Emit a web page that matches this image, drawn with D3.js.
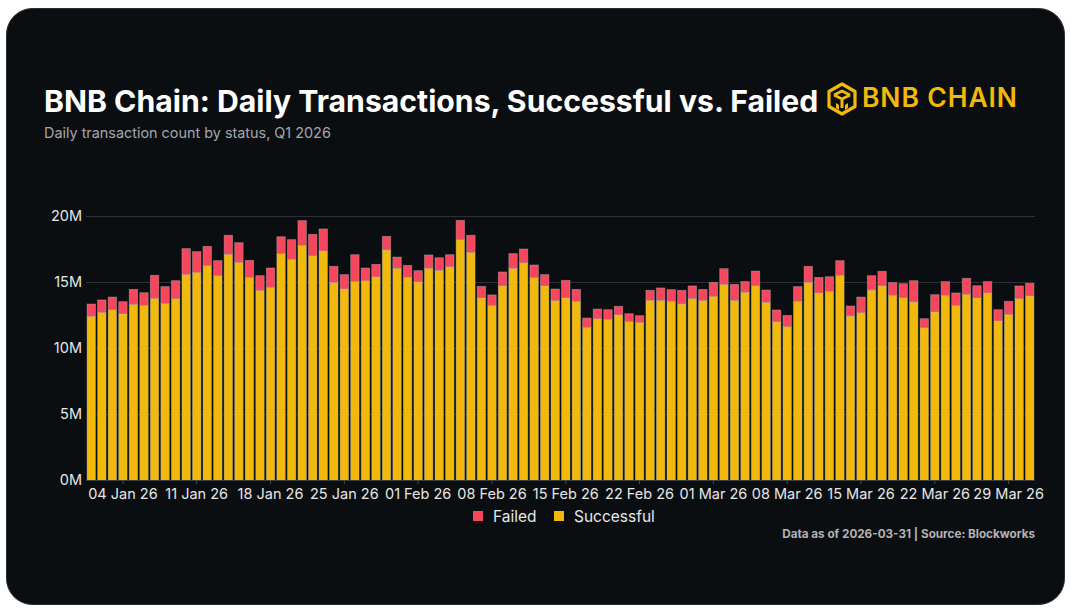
<!DOCTYPE html>
<html>
<head>
<meta charset="utf-8">
<script src="https://cdn.jsdelivr.net/npm/d3@7"></script>
<style>
  html, body { margin: 0; padding: 0; background: #ffffff; }
  svg { display: block; font-family: Inter, "Noto Sans", sans-serif; }
</style>
</head>
<body>
<svg id="chart" width="1071" height="610"></svg>
<script>
// ---- Data (values in millions of transactions) ----
const startDate = new Date(2026, 0, 1);
const endDate = new Date(2026, 3, 1);
const dates = d3.timeDay.range(startDate, endDate); // 1 Jan .. 31 Mar 2026

const successful = [
  12.40,12.70,12.90,12.58,13.31,13.23,13.76,13.38,13.74,15.58,
  15.73,16.24,15.48,17.10,16.49,15.35,14.37,14.60,17.15,16.72,
  17.78,16.99,17.35,14.97,14.47,15.03,15.10,15.38,17.42,16.04,
  15.36,15.00,16.04,15.88,16.16,18.21,17.25,13.79,13.23,14.70,
  16.04,16.46,15.33,14.70,13.59,13.79,13.54,11.57,12.22,12.17,
  12.50,12.00,11.94,13.61,13.61,13.54,13.33,13.74,13.59,13.91,
  14.82,13.61,14.22,14.72,13.46,11.97,11.62,13.54,14.97,14.17,
  14.29,15.51,12.42,12.68,14.39,14.70,13.99,13.81,13.48,11.54,
  12.73,13.99,13.23,14.07,13.79,14.17,12.05,12.55,13.74,13.94
];
const failed = [
  0.93,0.94,0.96,0.93,1.13,0.96,1.75,1.27,1.36,1.95,
  1.57,1.46,1.14,1.44,1.49,1.29,1.11,1.46,1.28,1.49,
  1.87,1.62,1.67,1.22,1.09,2.04,0.96,0.96,1.04,0.85,
  0.90,0.86,1.01,0.96,0.91,1.46,1.29,0.88,0.79,1.06,
  1.11,1.04,0.96,0.86,0.88,1.34,0.90,0.70,0.73,0.73,
  0.66,0.60,0.51,0.76,0.94,0.88,1.04,0.96,0.85,1.06,
  1.19,1.21,0.81,1.11,0.93,0.91,0.85,1.11,1.22,1.18,
  1.11,1.11,0.76,1.18,1.09,1.11,0.96,1.06,1.62,0.68,
  1.31,1.04,0.94,1.21,0.93,0.86,0.85,0.99,0.96,0.96
];
const seriesKeys = ["successful", "failed"];
const seriesLabels = { successful: "Successful", failed: "Failed" };
const legendOrder = ["failed", "successful"];
const yTicks = [0, 5, 10, 15, 20];
const xTickDates = [
  new Date(2026,0,4), new Date(2026,0,11), new Date(2026,0,18), new Date(2026,0,25),
  new Date(2026,1,1), new Date(2026,1,8), new Date(2026,1,15), new Date(2026,1,22),
  new Date(2026,2,1), new Date(2026,2,8), new Date(2026,2,15), new Date(2026,2,22),
  new Date(2026,2,29)
];
const titleText = "BNB Chain: Daily Transactions, Successful vs. Failed";
const subtitleText = "Daily transaction count by status, Q1 2026";
const footerText = "Data as of 2026-03-31 | Source: Blockworks";

// ---- Styles ----
const colors = { successful: "#F0B90B", failed: "#F6465D" };
const cardBg = "#0b0e11";

const svg = d3.select("#chart");

// Card background
svg.append("rect")
  .attr("x", 6.5).attr("y", 8.5)
  .attr("width", 1058).attr("height", 596)
  .attr("rx", 26).attr("ry", 26)
  .attr("fill", cardBg)
  .attr("stroke", "#2a2d31").attr("stroke-width", 1);

// Table for stacking
const table = dates.map((d, i) => ({ date: d, successful: successful[i], failed: failed[i] }));
const stacked = d3.stack().keys(seriesKeys)(table);

const margin = { left: 86, right: 1035, top: 216, bottom: 480 };
const x = d3.scaleBand()
  .domain(dates.map(d => +d))
  .range([margin.left, margin.right])
  .paddingInner(0.2)
  .paddingOuter(0.1);
const y = d3.scaleLinear().domain([0, 20]).range([margin.bottom, margin.top]);

// Gridlines
svg.append("g")
  .selectAll("line")
  .data(yTicks.filter(t => t > 0))
  .join("line")
  .attr("x1", margin.left).attr("x2", margin.right)
  .attr("y1", d => y(d) + 0.5).attr("y2", d => y(d) + 0.5)
  .attr("stroke", "#2c2f33").attr("stroke-width", 1.2);

// Y axis
const yAxis = svg.append("g")
  .attr("transform", `translate(${margin.left - 2},0)`)
  .call(d3.axisLeft(y).tickValues(yTicks).tickSize(0).tickPadding(2).tickFormat(d => d + "M"));
yAxis.select(".domain").remove();
yAxis.selectAll("text")
  .attr("fill", "#e6e6e6")
  .attr("font-size", 14.5)
  .attr("font-family", "Inter, sans-serif");

// Bars
svg.append("g")
  .selectAll("g")
  .data(stacked)
  .join("g")
  .attr("fill", d => colors[d.key])
  .selectAll("rect")
  .data(d => d)
  .join("rect")
  .attr("x", d => x(+d.data.date))
  .attr("width", x.bandwidth())
  .attr("y", d => y(d[1]))
  .attr("height", d => y(d[0]) - y(d[1]))
  .attr("stroke", "rgba(190,190,190,0.45)")
  .attr("stroke-width", 0.8);

// X axis
const xAxis = svg.append("g")
  .attr("transform", `translate(0,${margin.bottom})`)
  .call(d3.axisBottom(x)
    .tickValues(xTickDates.map(d => +d))
    .tickSize(4)
    .tickPadding(5)
    .tickFormat(d => d3.timeFormat("%d %b %y")(new Date(d))));
xAxis.select(".domain").attr("stroke", "#3a3d42").attr("d", `M${margin.left},0.5H${margin.right}`);
xAxis.selectAll(".tick line").attr("stroke", "#4a4d52");
xAxis.selectAll("text")
  .attr("fill", "#e6e6e6")
  .attr("font-size", 14.5)
  .attr("font-family", "Inter, sans-serif");

// Title
svg.append("text")
  .attr("x", 44).attr("y", 112)
  .attr("fill", "#ffffff")
  .attr("font-size", 30.2)
  .attr("font-weight", 700)
  .attr("font-family", "Inter, sans-serif")
  .text(titleText);

svg.append("text")
  .attr("x", 44).attr("y", 138)
  .attr("fill", "#a3a7ad")
  .attr("font-size", 14.4)
  .attr("font-family", "Inter, sans-serif")
  .text(subtitleText);

// Logo
const logo = svg.append("g").attr("transform", "translate(842,99)");
const Y = colors.successful;
const hex = d3.range(6).map(k => {
  const a = Math.PI / 3 * k - Math.PI / 2;
  return [15 * Math.cos(a), 15 * Math.sin(a)];
});
logo.append("path")
  .attr("d", "M" + hex.map(p => p.join(",")).join("L") + "Z")
  .attr("fill", "none").attr("stroke", Y).attr("stroke-width", 3.2).attr("stroke-linejoin", "round");
logo.append("path")
  .attr("d", "M-8,-4L0,0L8,-4M0,0L0,9M-8,-4L0,-8L8,-4")
  .attr("fill", "none").attr("stroke", Y).attr("stroke-width", 3).attr("stroke-linejoin", "round");
logo.append("path")
  .attr("d", "M-6,4L-3,6L-3,11L-6,9Z M6,4L3,6L3,11L6,9Z")
  .attr("fill", Y);

svg.append("text")
  .attr("x", 862).attr("y", 107)
  .attr("fill", Y)
  .attr("font-size", 26.5)
  .attr("font-weight", 600)
  .attr("letter-spacing", 0.9)
  .attr("font-family", "Inter, sans-serif")
  .text("BNB CHAIN");

// Legend
const legend = svg.append("g").attr("transform", "translate(0,516)");
const legendPos = { failed: 473, successful: 554 };
legendOrder.forEach(k => {
  const g = legend.append("g").attr("transform", `translate(${legendPos[k]},0)`);
  g.append("rect").attr("x", 0).attr("y", -5).attr("width", 10).attr("height", 10)
    .attr("fill", colors[k]);
  g.append("text").attr("x", 20).attr("y", 5.5)
    .attr("fill", "#e6e6e6").attr("font-size", 15.5)
    .attr("font-family", "Inter, sans-serif")
    .text(seriesLabels[k]);
});

// Footer
svg.append("text")
  .attr("x", 1035).attr("y", 538)
  .attr("text-anchor", "end")
  .attr("fill", "#b3b3b3")
  .attr("font-size", 11.7)
  .attr("font-weight", 700)
  .attr("font-family", "Inter, sans-serif")
  .text(footerText);
</script>
</body>
</html>
